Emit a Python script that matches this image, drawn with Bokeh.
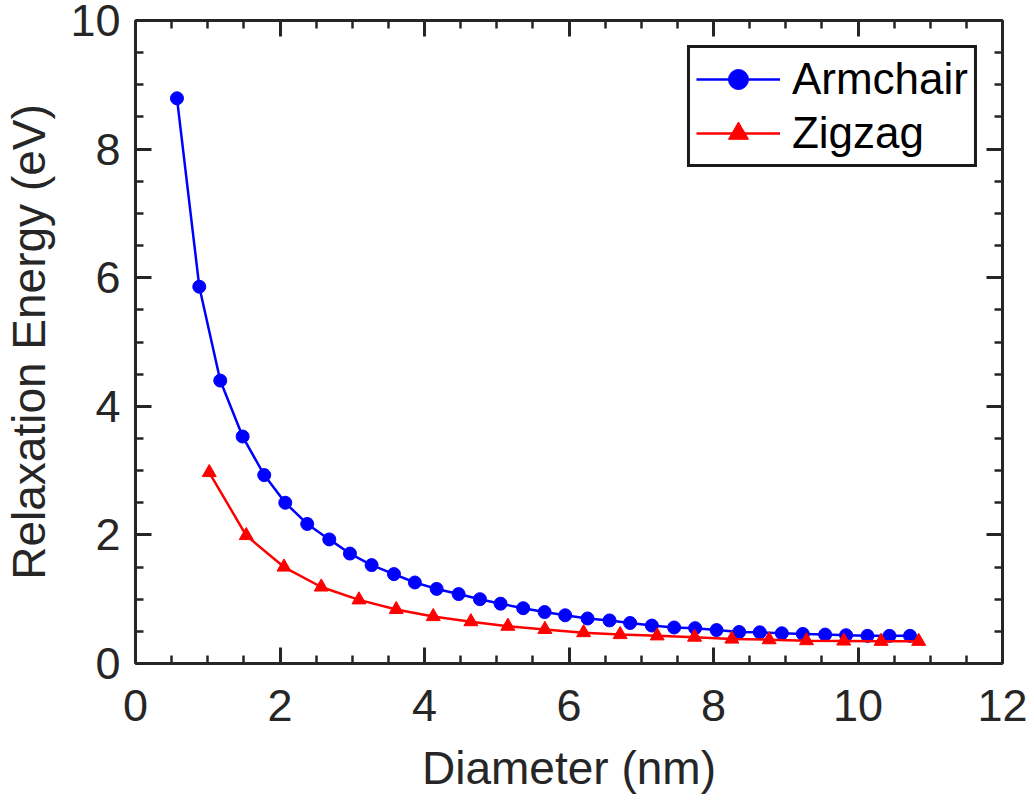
from bokeh.plotting import figure
from bokeh.models import (LinearAxis, SingleIntervalTicker, CustomJSTickFormatter,
                          Legend, LegendItem, Range1d)
from bokeh.embed import file_html
from bokeh.resources import INLINE

# ---- data ----
armchair_d = [0.574, 0.883, 1.173, 1.483, 1.782, 2.073, 2.377, 2.682, 2.968, 3.268,
              3.577, 3.867, 4.168, 4.472, 4.767, 5.053, 5.366, 5.662, 5.947, 6.257,
              6.561, 6.846, 7.147, 7.455, 7.746, 8.042, 8.355, 8.641, 8.946, 9.236,
              9.545, 9.835, 10.131, 10.436, 10.72]
armchair_e = [8.79, 5.86, 4.40, 3.53, 2.93, 2.50, 2.17, 1.93, 1.71, 1.53,
              1.39, 1.26, 1.16, 1.08, 1.00, 0.93, 0.86, 0.80, 0.75, 0.70,
              0.67, 0.63, 0.59, 0.56, 0.55, 0.52, 0.49, 0.485, 0.47, 0.46,
              0.45, 0.44, 0.43, 0.43, 0.43]
zigzag_d = [1.021, 1.533, 2.055, 2.571, 3.093, 3.609, 4.121, 4.642, 5.154, 5.666,
            6.202, 6.708, 7.220, 7.738, 8.254, 8.770, 9.287, 9.803, 10.32, 10.84]
zigzag_e = [2.97, 1.99, 1.50, 1.19, 0.99, 0.84, 0.73, 0.65, 0.58, 0.53,
            0.48, 0.45, 0.43, 0.41, 0.38, 0.37, 0.355, 0.35, 0.345, 0.345]

x_label = "Diameter (nm)"
y_label = "Relaxation Energy (eV)"
series_names = ["Armchair", "Zigzag"]

FONT = "Liberation Sans"
DARK = "#262626"

p = figure(frame_width=867, frame_height=643,
           x_range=Range1d(0, 12), y_range=Range1d(0, 10),
           min_border_left=125, min_border_right=26, min_border_top=20, min_border_bottom=100,
           output_backend="svg", toolbar_location=None)
p.grid.visible = False
p.outline_line_color = None
p.background_fill_color = "white"
p.border_fill_color = "white"


def style_axis(ax, show_labels=True):
    ax.ticker = SingleIntervalTicker(interval=2, num_minor_ticks=4)
    ax.axis_line_color = DARK
    ax.axis_line_width = 3
    ax.major_tick_line_color = DARK
    ax.minor_tick_line_color = DARK
    ax.major_tick_line_width = 3
    ax.minor_tick_line_width = 2.5
    ax.major_tick_in = 16
    ax.major_tick_out = 0
    ax.minor_tick_in = 8
    ax.minor_tick_out = 0
    if show_labels:
        ax.major_label_text_font = FONT
        ax.major_label_text_font_size = "45px"
        ax.major_label_text_color = DARK
        ax.axis_label_text_font = FONT
        ax.axis_label_text_font_size = "46px"
        ax.axis_label_text_font_style = "normal"
        ax.axis_label_text_color = DARK
    else:
        ax.formatter = CustomJSTickFormatter(code="return ''")
        ax.major_label_text_font_size = "1px"
        ax.major_label_standoff = 0


xa = p.xaxis[0]
ya = p.yaxis[0]
style_axis(xa)
style_axis(ya)
xa.axis_label = x_label
ya.axis_label = y_label
xa.major_label_standoff = 26
xa.axis_label_standoff = 18
ya.major_label_standoff = 15
ya.axis_label_standoff = 12

top_ax = LinearAxis()
right_ax = LinearAxis()
style_axis(top_ax, False)
style_axis(right_ax, False)
p.add_layout(top_ax, "above")
p.add_layout(right_ax, "right")

l1 = p.line(armchair_d, armchair_e, line_color="#0000FF", line_width=2.5)
s1 = p.scatter(armchair_d, armchair_e, marker="circle", size=13,
               fill_color="#0000FF", line_color="#0000FF")
l2 = p.line(zigzag_d, zigzag_e, line_color="#FF0000", line_width=2.5)
s2 = p.scatter(zigzag_d, zigzag_e, marker="triangle", size=14,
               fill_color="#FF0000", line_color="#FF0000")

legend = Legend(items=[LegendItem(label=series_names[0], renderers=[l1, s1]),
                       LegendItem(label=series_names[1], renderers=[l2, s2])],
                location="top_right", margin=25, padding=6, spacing=4,
                glyph_width=84, glyph_height=50, label_height=50, label_standoff=12,
                label_text_font=FONT, label_text_font_size="44px",
                label_text_color="black", label_text_baseline="middle",
                border_line_color="#1a1a1a", border_line_width=3, border_line_alpha=1,
                background_fill_color="white", background_fill_alpha=1)
p.add_layout(legend)

open("out.html", "w").write(file_html(p, INLINE))
